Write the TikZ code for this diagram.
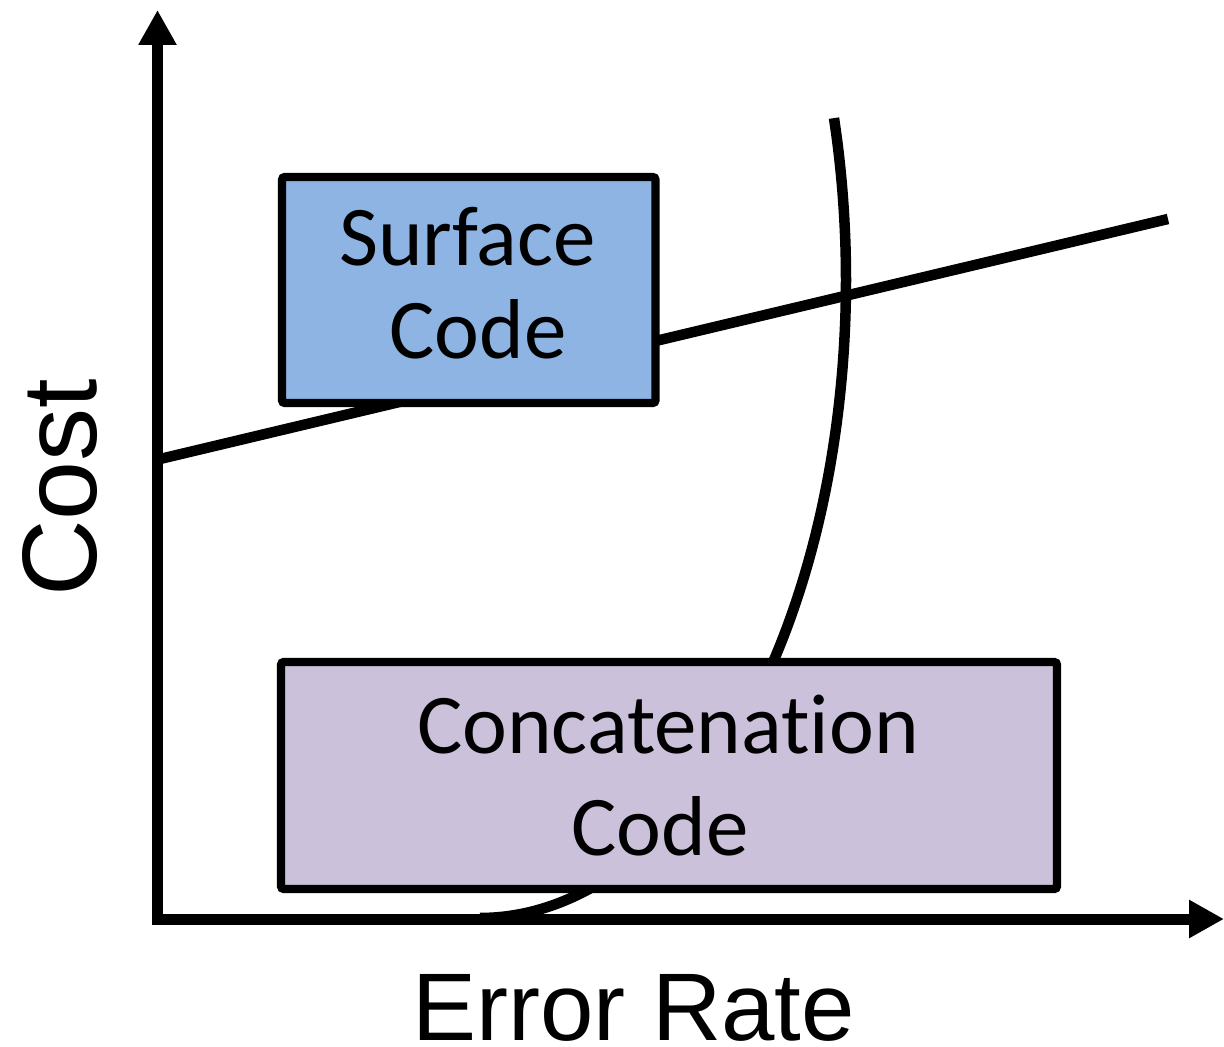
\documentclass[tikz,border=0pt]{standalone}
\usepackage{fontspec}
\newfontfamily\boxfont[Ligatures=NoCommon]{Carlito}
\newfontfamily\axisfont{Liberation Sans}
\usetikzlibrary{arrows.meta}

\definecolor{surfblue}{HTML}{8EB4E3}
\definecolor{concpurple}{HTML}{CCC1DA}

\tikzset{
  axisline/.style={line width=5.5pt, line join=miter,
    {Triangle[length=17.5pt,width=18pt]}-{Triangle[length=17.5pt,width=18pt]}},
  trendline/.style={line width=5.25pt},
  codebox/.style={draw=black, line width=4.2pt, rounded corners=1.5pt, inner sep=0pt},
  boxtext/.style={font=\boxfont\fontsize{42.5pt}{50pt}\selectfont, anchor=base, inner sep=0pt},
  axistext/.style={font=\axisfont, inner sep=0pt}
}

\begin{document}
\begin{tikzpicture}[x=0.5pt, y=-0.5pt]
  \useasboundingbox (0,0) rectangle (1224,1047);

  % axes
  \coordinate (origin) at (157.5,919);
  \coordinate (ytip) at (157.5,10);
  \coordinate (xtip) at (1224,919);
  \draw[axisline] (ytip) -- (origin) -- (xtip);

  % linear cost curve
  \coordinate (lineA) at (160,459);
  \coordinate (lineB) at (1168,219);
  \draw[trendline] (lineA) -- (lineB);

  % concatenation cost curve (elliptic arc)
  \draw[trendline] plot[domain=-14.7:90, samples=80, smooth]
    ({480+366*cos(\x)}, {280+638*sin(\x)});

  % boxes
  \node[codebox, fill=surfblue, minimum width=186.75pt, minimum height=113pt]
    (surface) at (468.75,290) {};
  \node[codebox, fill=concpurple, minimum width=388pt, minimum height=113.5pt]
    (concat) at (669,775.5) {};

  \node[boxtext] (surf1) at (467.5,266) {Surface};
  \node[boxtext] (surf2) at (478,359) {Code};
  \node[boxtext] (conc1) at (668,753) {Concatenation};
  \node[boxtext] (conc2) at (660,855) {Code};

  % axis labels
  \node[axistext, font=\axisfont\fontsize{53pt}{60pt}\selectfont, rotate=90]
    (ylabel) at (60,488) {Cost};
  \node[axistext, font=\axisfont\fontsize{48pt}{56pt}\selectfont, anchor=base]
    (xlabel) at (633.5,1040) {Error Rate};
\end{tikzpicture}
\end{document}
